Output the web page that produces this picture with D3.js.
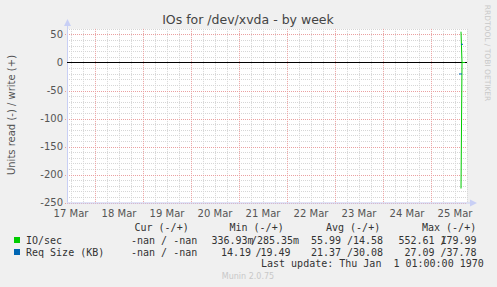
<!DOCTYPE html>
<html>
<head>
<meta charset="utf-8">
<script src="https://cdn.jsdelivr.net/npm/d3@7.9.0/dist/d3.min.js"></script>
<style>
  body { margin: 0; background: #f0f0f0; }
  svg { display: block; }
  text { font-family: "DejaVu Sans", sans-serif; }
  .mono { font-family: "DejaVu Sans Mono", monospace; font-size: 10px; fill: #333; white-space: pre; }
</style>
</head>
<body>
<svg id="chart" width="497" height="287"></svg>
<script>
// chart values
const title = 'IOs for /dev/xvda - by week';
const yLabel = 'Units read (-) / write (+)';
const yTicks = [50, 0, -50, -100, -150, -200, -250];
const dayLabels = ['17 Mar', '18 Mar', '19 Mar', '20 Mar', '21 Mar', '22 Mar', '23 Mar', '24 Mar', '25 Mar'];
const seriesNames = ['IO/sec', 'Req Size (KB)'];
const seriesColors = ['#00cc00', '#0066b3'];

// samples (UTC, 30 min steps) near the end of the week
const ioTimes = ['2021-03-25T15:00Z', '2021-03-25T15:30Z', '2021-03-25T16:00Z', '2021-03-25T16:30Z', '2021-03-25T17:00Z'];
const ioRead = [225, 0, 0, 0, 0];
const ioWrite = [55, 0, 0, 0, 0];
const reqReadTimes = ['2021-03-25T14:00Z', '2021-03-25T14:30Z', '2021-03-25T15:00Z', '2021-03-25T15:30Z'];
const reqRead = [20.5, 20.5, 20.5, 20.5];
const reqWriteTimes = ['2021-03-25T15:00Z', '2021-03-25T15:30Z', '2021-03-25T16:00Z'];
const reqWrite = [32.5, 32.5, 32.5];

// legend values
const curVals = [['-nan', '-nan'], ['-nan', '-nan']];
const minVals = [['336.93m', '285.35m'], ['14.19', '19.49']];
const avgVals = [['55.99', '14.58'], ['21.37', '30.08']];
const maxVals = [['552.61', '179.99'], ['27.09', '37.78']];
const lastUpdate = 'Last update: Thu Jan  1 01:00:00 1970';

const svg = d3.select('#chart');
const pLeft = 67, pRight = 467, pTop = 28.9, pBottom = 202.5;

const x = d3.scaleUtc()
  .domain([new Date('2021-03-17T10:00Z'), new Date('2021-03-25T18:00Z')])
  .range([pLeft, pRight]);
const y = d3.scaleLinear().domain([-250, 60]).range([pBottom, pTop]);

svg.append('rect').attr('x', pLeft).attr('y', pTop).attr('width', pRight - pLeft).attr('height', pBottom - pTop).attr('fill', '#fff');

// minor grid
const g = svg.append('g');
d3.range(-240, 61, 10).filter(v => v % 50 !== 0).forEach(v => {
  g.append('line').attr('x1', pLeft).attr('x2', pRight).attr('y1', Math.round(y(v)) + 0.5).attr('y2', Math.round(y(v)) + 0.5)
    .attr('stroke', '#d6d6d6').attr('stroke-dasharray', '1,1');
});
x.ticks(d3.utcHour.every(6)).forEach(t => {
  if (t.getUTCHours() === 0) return;
  const px = Math.round(x(t)) + 0.5;
  g.append('line').attr('x1', px).attr('x2', px).attr('y1', pTop).attr('y2', pBottom)
    .attr('stroke', '#d6d6d6').attr('stroke-dasharray', '1,1');
});
// major grid
yTicks.filter(v => v !== 0).forEach(v => {
  const py = Math.round(y(v)) + 0.5;
  g.append('line').attr('x1', pLeft - 2).attr('x2', pRight).attr('y1', py).attr('y2', py)
    .attr('stroke', '#eaa0a0').attr('stroke-dasharray', '1,1');
});
x.ticks(d3.utcDay.every(1)).forEach(t => {
  const px = Math.round(x(t)) + 0.5;
  g.append('line').attr('x1', px).attr('x2', px).attr('y1', pTop).attr('y2', pBottom + 2)
    .attr('stroke', '#eaa0a0').attr('stroke-dasharray', '1,1');
});

// axes
const axisColor = '#c8cff5';
svg.append('line').attr('x1', pLeft + 0.5).attr('x2', pLeft + 0.5).attr('y1', pTop - 4).attr('y2', pBottom).attr('stroke', axisColor);
svg.append('path').attr('d', `M${pLeft - 3},${pTop - 3}L${pLeft + 0.5},${pTop - 10}L${pLeft + 4},${pTop - 3}Z`).attr('fill', axisColor);
svg.append('line').attr('x1', pLeft).attr('x2', pRight + 4).attr('y1', pBottom + 0.5).attr('y2', pBottom + 0.5).attr('stroke', axisColor);
svg.append('path').attr('d', `M${pRight + 3},${pBottom - 3}L${pRight + 10},${pBottom + 0.5}L${pRight + 3},${pBottom + 4}Z`).attr('fill', axisColor);

// zero line
svg.append('line').attr('x1', pLeft).attr('x2', pRight).attr('y1', y(0)).attr('y2', y(0)).attr('stroke', '#000').attr('stroke-width', 1);

// y tick labels
svg.append('g').selectAll('text').data(yTicks).join('text')
  .attr('x', 63).attr('y', d => y(d) + 3.5).attr('text-anchor', 'end')
  .attr('font-size', 10).attr('fill', '#555').text(d => d);

// x labels at noon of each day
svg.append('g').selectAll('text').data(dayLabels).join('text')
  .attr('x', (d, i) => x(d3.utcHour.offset(new Date('2021-03-17T12:00Z'), 24 * i)))
  .attr('y', 216.5).attr('text-anchor', 'middle')
  .attr('font-size', 10).attr('fill', '#555').text(d => d);

// series
const line = d3.line().x(d => x(d[0])).y(d => y(d[1]));
const drawLine = (times, vals, sign, color) => {
  svg.append('path')
    .datum(times.map((t, i) => [new Date(t), sign * vals[i]]))
    .attr('d', line).attr('fill', 'none').attr('stroke', color).attr('stroke-width', 1);
};
drawLine(ioTimes, ioRead, -1, seriesColors[0]);
drawLine(ioTimes, ioWrite, 1, seriesColors[0]);
drawLine(reqReadTimes, reqRead, -1, seriesColors[1]);
drawLine(reqWriteTimes, reqWrite, 1, seriesColors[1]);

// titles
svg.append('text').attr('x', 248).attr('y', 23.5).attr('text-anchor', 'middle')
  .attr('font-size', 12.5).attr('fill', '#444').text(title);
svg.append('text').attr('transform', 'translate(14.5,115) rotate(-90)').attr('text-anchor', 'middle')
  .attr('font-size', 10).attr('fill', '#555').text(yLabel);
svg.append('text').attr('transform', 'translate(485,53) rotate(90)').attr('text-anchor', 'middle')
  .attr('font-size', 7.5).attr('fill', '#c8c8c8').text('RRDTOOL / TOBI OETIKER');
svg.append('text').attr('x', 248).attr('y', 279).attr('text-anchor', 'middle')
  .attr('font-size', 8).attr('fill', '#c8c8c8').text('Munin 2.0.75');

// legend
const rowY = [243.5, 255.5];
const mono = (tx, ty, s) => svg.append('text').attr('class', 'mono').attr('x', tx).attr('y', ty).text(s);
[['Cur (-/+)', 134.5], ['Min (-/+)', 229.5], ['Avg (-/+)', 326], ['Max (-/+)', 422]].forEach(([s, px]) => mono(px, 231, s));
seriesNames.forEach((name, i) => {
  svg.append('rect').attr('x', 14).attr('y', rowY[i] - 6.5).attr('width', 6).attr('height', 6).attr('fill', seriesColors[i]);
  mono(26, rowY[i], name);
  mono(131, rowY[i], `${curVals[i][0]} / ${curVals[i][1]}`);
});
// [readX, slashX, writeX] per row for min / avg / max
const minPos = [[211.5, 251, 257], [221, 255.5, 260.5]];
const avgPos = [[311, 347, 353], [311, 347, 353]];
const maxPos = [[398.5, 440.5, 440.5], [404.5, 440.5, 446.5]];
[[minVals, minPos], [avgVals, avgPos], [maxVals, maxPos]].forEach(([vals, pos]) => {
  vals.forEach((v, i) => {
    mono(pos[i][0], rowY[i], v[0]);
    mono(pos[i][1], rowY[i], '/');
    mono(pos[i][2], rowY[i], v[1]);
  });
});
mono(261, 267, lastUpdate);
</script>
</body>
</html>
